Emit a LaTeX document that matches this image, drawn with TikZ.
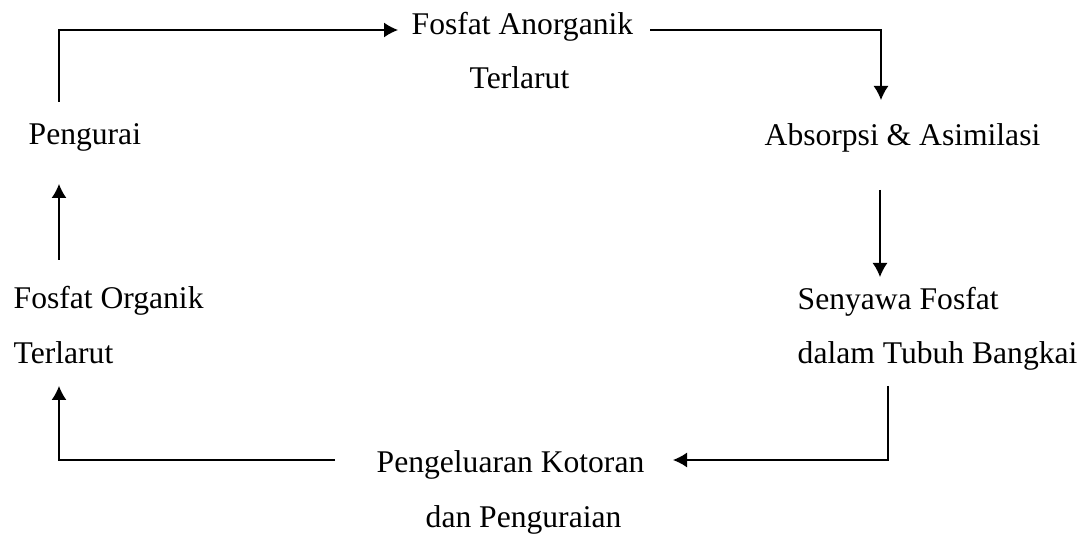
\documentclass[tikz,border=0pt]{standalone}
\usepackage{fontspec}
\setmainfont{Liberation Serif}
\usepackage{tikz}
\usetikzlibrary{positioning,arrows.meta,calc}
\tikzset{lbl/.style={anchor=base west,inner sep=0pt,font=\fontsize{15.8}{19}\selectfont}}

\begin{document}
\begin{tikzpicture}[>={Latex[length=7pt,width=7.5pt]},x=0.5pt,y=0.5pt,line width=0.7pt]
	\useasboundingbox (0,0) rectangle (1089,-539);
	\node[lbl] (Urai) at (28,-145) {Pengurai};
	\node[lbl] (FA) at (411,-35) {Fosfat Anorganik};
	\node[lbl] (FAt) at (469,-89) {Terlarut};
	\node[lbl] (Abs) at (764,-146) {Absorpsi \& Asimilasi};
	\node[lbl] (Sen) at (797,-310) {Senyawa Fosfat};
	\node[lbl] (SenT) at (797,-364) {dalam Tubuh Bangkai};
	\node[lbl] (Kel) at (376,-473) {Pengeluaran Kotoran};
	\node[lbl] (KelT) at (425,-528) {dan Penguraian};
	\node[lbl] (FO) at (13,-309) {Fosfat Organik};
	\node[lbl] (FOt) at (13,-364) {Terlarut};
	\draw [->] ($(Urai.base west)+(31,43)$) |- ($(FA.base west)+(-13,5)$);
	\draw [->] ($(FA.base west)+(239,5)$) -| ($(Abs.base west)+(117,46)$);
	\draw [->] ($(Abs.base west)+(116,-44)$) -- ($(Sen.base west)+(83,33)$);
	\draw [->] ($(SenT.base west)+(91,-22)$) |- ($(Kel.base west)+(297,13)$);
	\draw [->] ($(Kel.base west)+(-41,13)$) -| ($(FOt.base west)+(46,-22)$);
	\draw [->] ($(FO.base west)+(46,49)$) -- ($(Urai.base west)+(31,-39)$);
\end{tikzpicture}
\end{document}
